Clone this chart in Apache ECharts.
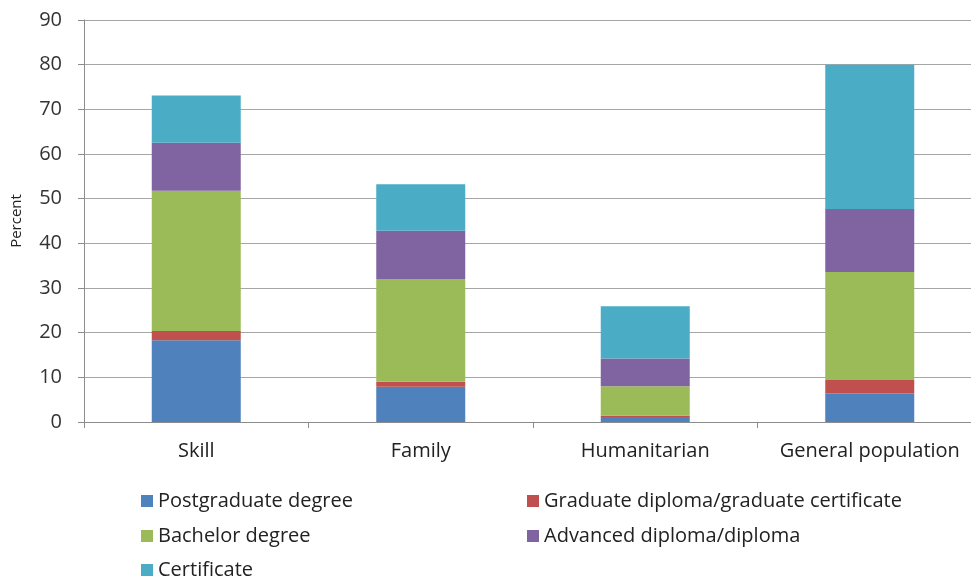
<!DOCTYPE html>
<html><head><meta charset="utf-8">
<script src="https://cdn.jsdelivr.net/npm/echarts@6/dist/echarts.min.js"></script>
<style>html,body{margin:0;padding:0;background:#fff}#c{width:971px;height:580px}</style>
</head><body><div id="c"></div>
<script>
const categories = ['Skill', 'Family', 'Humanitarian', 'General population'];
const postgraduate = [18.3, 7.9, 1.1, 6.4];
const gradDiploma = [2.1, 1.1, 0.3, 3.0];
const bachelor = [31.4, 23.0, 6.6, 24.2];
const advDiploma = [10.7, 10.8, 6.2, 14.1];
const certificate = [10.6, 10.4, 11.7, 32.3];
const seriesNames = ['Postgraduate degree', 'Graduate diploma/graduate certificate', 'Bachelor degree', 'Advanced diploma/diploma', 'Certificate'];
const seriesData = [postgraduate, gradDiploma, bachelor, advDiploma, certificate];
const colors = ['#4F81BD', '#C0504D', '#9BBB59', '#8064A2', '#4BACC6'];

const font = 'Open Sans';
const chart = echarts.init(document.getElementById('c'));
const legendText = {fontFamily: font, fontSize: 20, color: '#222', lineHeight: 24};
const legendPos = [[141, 489], [527, 489], [141, 524], [527, 524], [141, 558]];
chart.setOption({
  animation: false,
  color: colors,
  grid: {left: 84, top: 20, width: 898, height: 402, containLabel: false, outerBoundsMode: 'none'},
  xAxis: {
    type: 'category', data: categories,
    axisLine: {lineStyle: {color: '#8c8c8c', width: 1}},
    axisTick: {show: true, length: 6, interval: 0, lineStyle: {color: '#8c8c8c'}},
    axisLabel: {fontFamily: font, fontSize: 20, color: '#222', margin: 19, interval: 0, hideOverlap: false}
  },
  yAxis: {
    type: 'value', min: 0, max: 90, interval: 10,
    name: 'Percent', nameLocation: 'middle', nameGap: 60, nameRotate: 90,
    nameTextStyle: {fontFamily: font, fontSize: 15, color: '#222'},
    axisLine: {show: true, lineStyle: {color: '#8c8c8c'}},
    axisTick: {show: true, length: 6, inside: false, lineStyle: {color: '#8c8c8c'}},
    axisLabel: {fontFamily: font, fontSize: 20, color: '#333', margin: 22},
    splitLine: {lineStyle: {color: '#a6a6a6', width: 1}}
  },
  legend: seriesNames.map((n, i) => ({
    data: [n], left: legendPos[i][0], top: legendPos[i][1], padding: 0,
    itemWidth: 12, itemHeight: 12, textStyle: legendText, icon: 'rect'
  })),
  series: seriesNames.map((n, i) => ({
    name: n, type: 'bar', stack: 'total', data: seriesData[i], barWidth: 89,
    itemStyle: {color: colors[i]}
  }))
});
</script></body></html>
